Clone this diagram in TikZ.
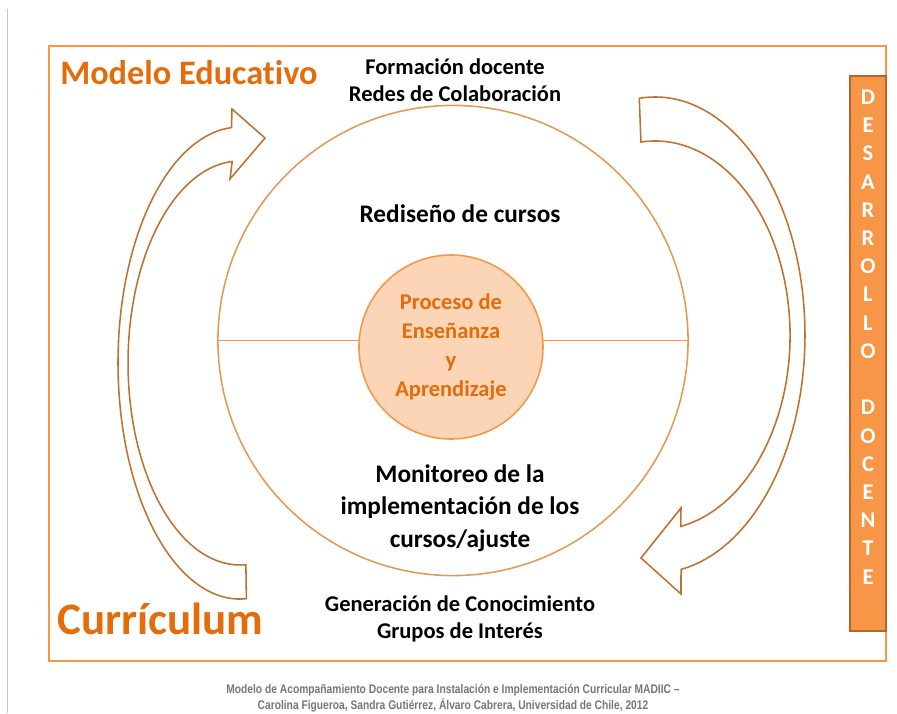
\documentclass[tikz,border=0pt]{standalone}
\usepackage{fontspec}
\setmainfont{Carlito}[Ligatures=NoCommon]
\newfontfamily\narrowfont[FakeStretch=0.82]{Liberation Sans}
\usetikzlibrary{positioning}

\definecolor{deeporange}{HTML}{E46C0A}
\definecolor{lightorange}{HTML}{F79646}
\definecolor{paleorange}{HTML}{FBD5B5}
\definecolor{brownline}{HTML}{BF7130}
\definecolor{ringline}{HTML}{E49A55}
\definecolor{boxline}{HTML}{B5652A}
\definecolor{footgray}{HTML}{767676}

\tikzset{
    frameline/.style={draw=lightorange, line width=1.4pt},
    arrowline/.style={draw=brownline, line width=1.1pt, line join=miter},
    ring/.style={circle, draw=ringline, line width=1.1pt, minimum size=11.75cm, inner sep=0pt},
    core/.style={circle, draw=lightorange, fill=paleorange, line width=1.1pt, minimum size=4.6cm, inner sep=0pt,
        align=center, text=deeporange, font=\bfseries\fontsize{16}{20.5}\selectfont},
    note/.style={align=center, inner sep=0pt, font=\bfseries\fontsize{16}{19.2}\selectfont},
    bignote/.style={align=center, inner sep=0pt, font=\bfseries\fontsize{18}{23.1}\selectfont},
    title/.style={inner sep=0pt, text=deeporange, font=\bfseries},
    devbox/.style={draw=boxline, fill=lightorange, line width=1.4pt, minimum width=0.9cm, minimum height=13.875cm, inner sep=0pt},
}

\begin{document}
\begin{tikzpicture}[x=0.025cm, y=-0.025cm]
    \useasboundingbox (0,0) rectangle (897,713);

    % page edge
    \draw[draw=black!22, line width=0.6pt] (7,9) -- (7,713);

    % outer frame
    \draw[frameline] (49,46) rectangle (886,661);

    % big ring and its axis
    \node[ring] (ring) at (453,340.5) {};
    \draw[draw=lightorange, line width=0.8pt] (ring.west) -- (ring.east);

    % centre of the model
    \node[core] (core) at (451,347) {Proceso de\\Enseñanza\\y\\Aprendizaje};

    % left curved arrow (up)
    \draw[arrowline] (231.5,127.6)
        arc[start angle=-94, end angle=-273, x radius=122, y radius=236]
        -- (245.9,564.7)
        arc[start angle=-273, end angle=-94, x radius=112, y radius=202]
        -- (230,179) -- (265,138) -- (232,109) -- cycle;

    % right curved arrow (down)
    \draw[arrowline] (639.3,98.3)
        arc[start angle=-96, end angle=80, x radius=150, y radius=238]
        -- (681,594) -- (641,558) -- (681,508) -- (680.8,526.4)
        arc[start angle=79, end angle=-96, x radius=135, y radius=194.5]
        -- cycle;

    % texts round the ring
    \node[note] (upper) at (455,80) {Formación docente\\Redes de Colaboración};
    \node[bignote] (redesign) at (460,214) {Rediseño de cursos};
    \node[bignote] (monitor) at (460,508) {Monitoreo de la\\implementación de los\\cursos/ajuste};
    \node[note] (lower) at (460,619) {Generación de Conocimiento\\Grupos de Interés};

    % titles
    \node[title, anchor=base west, font=\bfseries\fontsize{24.4}{28}\selectfont] (modelo) at (60,84) {Modelo Educativo};
    \node[title, anchor=base west, font=\bfseries\fontsize{32}{36}\selectfont] (curric) at (57,634) {Currículum};

    % teacher development bar
    \node[devbox] (devbox) at (868,353.5) {};
    \node[align=center, inner sep=0pt, text=white, font=\bfseries\fontsize{16}{20.06}\selectfont] (devtext) at (868,337)
        {D\\E\\S\\A\\R\\R\\O\\L\\L\\O\\[20.06pt]D\\O\\C\\E\\N\\T\\E};

    % source
    \node[align=center, inner sep=0pt, text=footgray, font=\narrowfont\bfseries\fontsize{8.9}{11.4}\selectfont] (source) at (453,698)
        {Modelo de Acompañamiento Docente para Instalación e Implementación Curricular MADIIC –\\
         Carolina Figueroa, Sandra Gutiérrez, Álvaro Cabrera, Universidad de Chile, 2012};
\end{tikzpicture}
\end{document}
